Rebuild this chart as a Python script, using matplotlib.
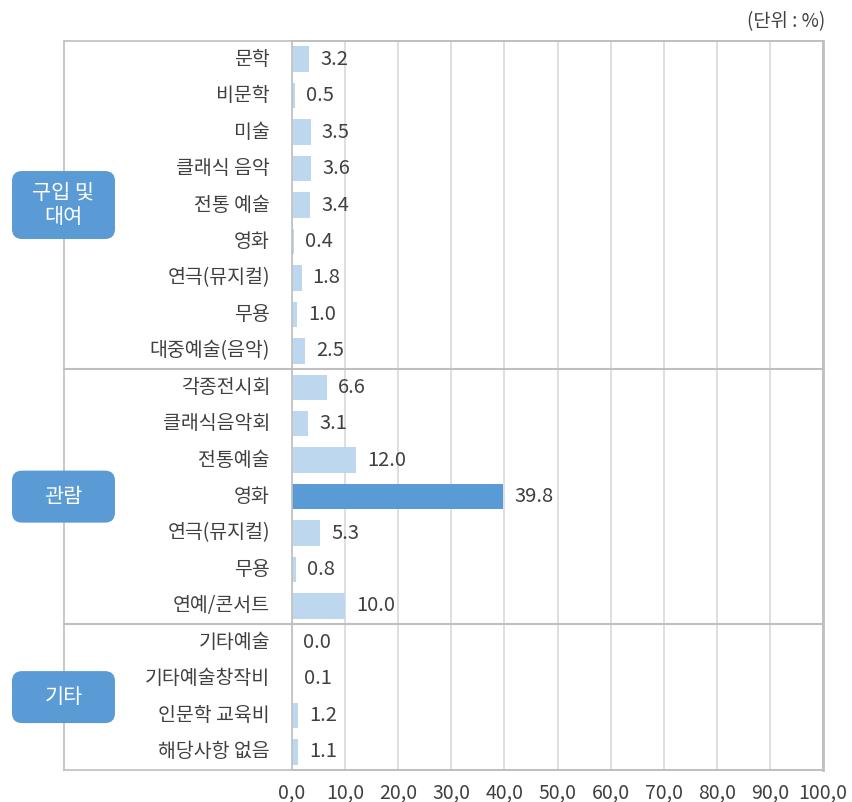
import matplotlib.pyplot as plt
from matplotlib.patches import FancyBboxPatch
from matplotlib.transforms import blended_transform_factory

plt.rcParams['font.family'] = ['Noto Sans CJK KR', 'DejaVu Sans']

# data
categories = ['문학', '비문학', '미술', '클래식 음악', '전통 예술', '영화', '연극(뮤지컬)', '무용',
              '대중예술(음악)',
              '각종전시회', '클래식음악회', '전통예술', '영화', '연극(뮤지컬)', '무용', '연예/콘서트',
              '기타예술', '기타예술창작비', '인문학 교육비', '해당사항 없음']
values = [3.2, 0.5, 3.5, 3.6, 3.4, 0.4, 1.8, 1.0, 2.5,
          6.6, 3.1, 12.0, 39.8, 5.3, 0.8, 10.0,
          0.0, 0.1, 1.2, 1.1]
groups = ['구입 및\n대여', '관람', '기타']
group_sizes = [9, 7, 4]
highlight = 12  # 관람 - 영화
x_ticks = [0, 10, 20, 30, 40, 50, 60, 70, 80, 90, 100]
x_ticklabels = ['0,0', '10,0', '20,0', '30,0', '40,0', '50,0', '60,0', '70,0', '80,0', '90,0', '100,0']

light = '#BDD7EE'
dark = '#5B9BD5'
border = '#BFBFBF'
grid_c = '#D9D9D9'
text_c = '#404040'

W, H = 853, 802
fig = plt.figure(figsize=(W / 100, H / 100), dpi=100)
ax_l, ax_r, ax_t, ax_b = 292, 823, 41, 770
ax = fig.add_axes([ax_l / W, 1 - ax_b / H, (ax_r - ax_l) / W, (ax_b - ax_t) / H])

n = len(categories)
ypos = list(range(n))
colors = [dark if i == highlight else light for i in ypos]
ax.barh(ypos, values, height=0.7, color=colors, zorder=2)

ax.set_xlim(0, 100)
ax.set_ylim(n - 0.5, -0.5)
ax.set_xticks(x_ticks)
ax.set_xticklabels(x_ticklabels, fontsize=14, color=text_c)
ax.tick_params(axis='x', length=0, pad=9)
ax.set_yticks([])
ax.grid(axis='x', color=grid_c, lw=1.2, zorder=0)
for s in ax.spines.values():
    s.set_color(border)
    s.set_linewidth(1.2)
ax.spines['right'].set_linewidth(2)

# value labels
for i, v in enumerate(values):
    ax.annotate(f'{v:.1f}', (v, i), xytext=(8, 0), textcoords='offset points',
                va='center', ha='left', fontsize=14.5, color=text_c)

# category labels
trans = blended_transform_factory(ax.transAxes, ax.transData)
px = 1 / (ax_r - ax_l)
for i, c in enumerate(categories):
    ax.text(-22 * px, i, c, transform=trans, ha='right', va='center',
            fontsize=14, color=text_c)

# outer label panel
left_x = (64 - ax_l) * px
ax.plot([left_x, 1], [-0.5, -0.5], transform=trans, color=border, lw=1.2, clip_on=False)
ax.plot([left_x, 1], [n - 0.5, n - 0.5], transform=trans, color=border, lw=1.2, clip_on=False)
ax.plot([left_x, left_x], [-0.5, n - 0.5], transform=trans, color=border, lw=1.2, clip_on=False)
start = 0
for size in group_sizes[:-1]:
    start += size
    ax.plot([left_x, 1], [start - 0.5, start - 0.5], transform=trans,
            color=border, lw=1.5, clip_on=False, zorder=3)

# group boxes
ax_w = ax_r - ax_l
ax_h = ax_b - ax_t
start = 0
for g, size in zip(groups, group_sizes):
    center = start + (size - 1) / 2
    start += size
    yc = 1 - (center + 0.5) / n
    bh = (68 if '\n' in g else 52) / ax_h
    bx = (12 - ax_l) / ax_w
    bw = 103 / ax_w
    box = FancyBboxPatch((bx, yc - bh / 2), bw, bh, transform=ax.transAxes,
                         boxstyle=f'round,pad=0,rounding_size={10 / ax_w}',
                         mutation_aspect=ax_w / ax_h,
                         facecolor=dark, edgecolor='none', clip_on=False, zorder=5)
    ax.add_patch(box)
    ax.text(bx + bw / 2, yc, g, transform=ax.transAxes, ha='center', va='center',
            fontsize=15, color='white', linespacing=1.15, zorder=6)

fig.text(825 / W, 1 - 22 / H, '(단위 : %)', ha='right', va='center', fontsize=13.5, color=text_c)

fig.savefig('out.png', dpi=100)
